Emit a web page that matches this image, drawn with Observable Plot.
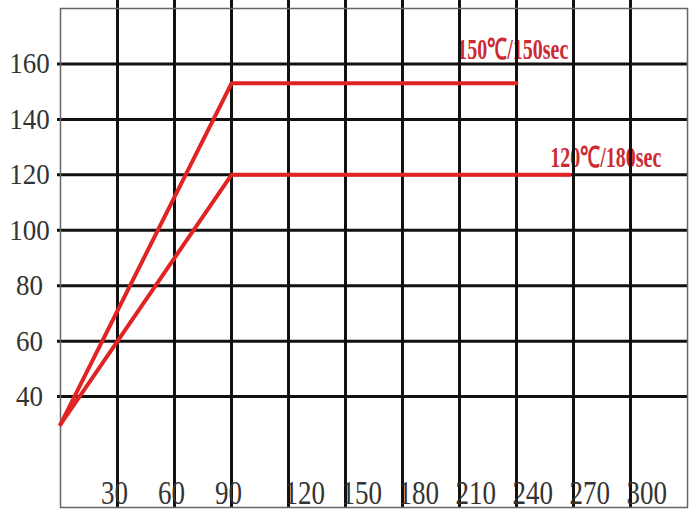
<!DOCTYPE html>
<html><head><meta charset="utf-8">
<script src="https://cdn.jsdelivr.net/npm/d3@7"></script>
<script src="https://cdn.jsdelivr.net/npm/@observablehq/plot@0.6"></script>
<style>body{margin:0;background:#fff}#chart svg{display:block}</style>
</head><body><div id="chart"></div>
<script>
// Curing profiles: time (sec) vs temperature (°C)
const profileNames = ["150℃/150sec", "120℃/180sec"];
const profileTime = [[0, 90, 240], [0, 90, 268]];
const profileTemp = [[30, 153, 153], [30, 120, 120]];
// Annotation anchor points (data units)
const labelTime = [238, 287];
const labelTemp = [165, 126];
// Axis ticks
const xTicks = [30, 60, 90, 120, 150, 180, 210, 240, 270, 300];
const yTicks = [40, 60, 80, 100, 120, 140, 160];

const points = profileNames.flatMap((name, i) =>
  profileTime[i].map((t, j) => ({series: name, time: t, temp: profileTemp[i][j]})));
const labels = profileNames.map((name, i) => ({text: name, time: labelTime[i], temp: labelTemp[i]}));
const xShort = xTicks.filter(d => d < 100);
const xLong = xTicks.filter(d => d >= 100);

const serif = "'Liberation Serif', 'Times New Roman', serif";

const chart = Plot.plot({
  width: 700,
  height: 525,
  marginLeft: 60,
  marginRight: 13,
  marginTop: 8,
  marginBottom: 18,
  x: {domain: [0, 330], axis: null},
  y: {domain: [0, 180], axis: null},
  style: {fontFamily: serif, background: "#fff"},
  marks: [
    Plot.text(labels, {x: "time", y: "temp", text: "text", fill: "#cc2a35",
      fontSize: 20, fontWeight: "bold", fontFamily: serif, textAnchor: "middle"}),
    Plot.ruleX(xTicks, {stroke: "#111", strokeWidth: 3, insetTop: -8}),
    Plot.ruleY(yTicks, {stroke: "#111", strokeWidth: 3, insetLeft: -3}),
    Plot.frame({stroke: "#666", strokeWidth: 1.5}),
    Plot.line(points, {x: "time", y: "temp", z: "series", stroke: "#e02424",
      strokeWidth: 4, strokeLinejoin: "miter"}),
    Plot.text(xShort, {x: d => d, text: d => String(d), frameAnchor: "bottom",
      lineAnchor: "bottom", dy: -4, dx: -3, fontSize: 27, fill: "#333", textAnchor: "middle"}),
    Plot.text(xLong, {x: d => d, text: d => String(d), frameAnchor: "bottom",
      lineAnchor: "bottom", dy: -4, dx: -4, fontSize: 27, fill: "#333", textAnchor: "start"}),
    Plot.text(yTicks, {y: d => d, text: d => String(d), frameAnchor: "left",
      dx: -31, fontSize: 27, fill: "#333", textAnchor: "middle"})
  ]
});

// The source's lettering is vertically stretched; scale each text about its anchor.
const stretch = [1.45, 1.25, 1.25, 1.1];
const num = v => (v != null && /^-?[\d.]+$/.test(String(v).trim())) ? +v : 0;
d3.select(chart).selectAll("g[aria-label='text']").each(function(_, gi) {
  const s = stretch[gi] ?? 1;
  d3.select(this).selectAll("text").each(function() {
    const t = d3.select(this);
    const x = num(t.attr("x")), y = num(t.attr("y"));
    const tr = t.attr("transform") || "";
    t.attr("transform", `${tr} translate(${x},${y}) scale(1,${s}) translate(${-x},${-y})`);
  });
});
document.getElementById("chart").appendChild(chart);
</script>
</body></html>
